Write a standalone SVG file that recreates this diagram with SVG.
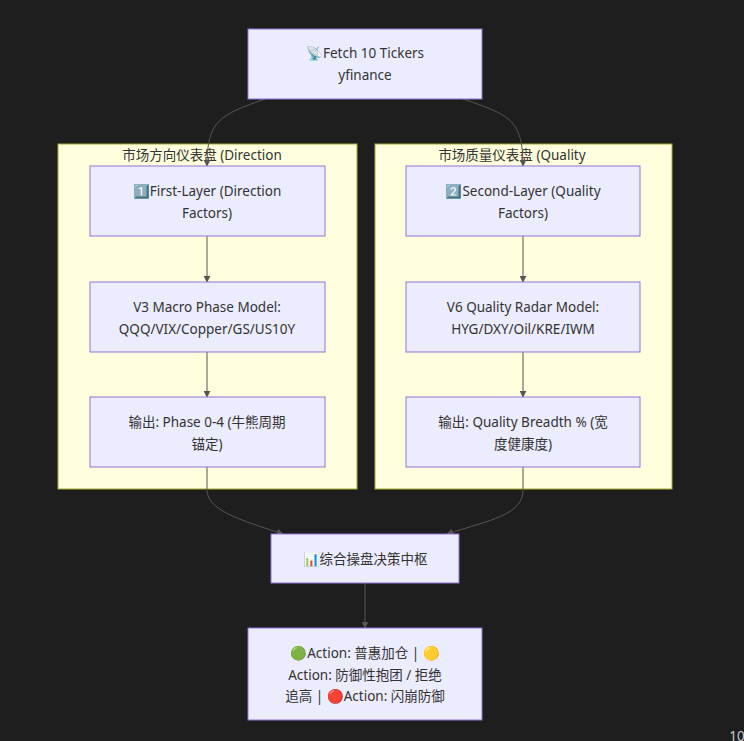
<svg xmlns="http://www.w3.org/2000/svg" width="744" height="741" viewBox="0 0 744 741">
<style>
.node{fill:#ececff;stroke:#9370db;stroke-width:1}
.cl{fill:#ffffde;stroke:#aaaa33;stroke-width:1}
text{font-family:"Noto Sans","Noto Sans CJK SC",sans-serif;font-size:13.5px;fill:#333;text-anchor:middle}
.e{fill:none;stroke:#555;stroke-width:1}
</style>
<defs><marker id="a" viewBox="0 0 10 10" refX="9" refY="5" markerWidth="7" markerHeight="7" orient="auto"><path d="M0,0L10,5L0,10z" fill="#555"/></marker></defs>
<rect width="744" height="741" fill="#1e1e1e"/>
<g id="clusterDirection"><rect class="cl" x="58" y="144" width="299" height="345"/><text x="202" y="160">市场方向仪表盘 (Direction</text></g>
<g id="clusterQuality"><rect class="cl" x="375" y="144" width="297" height="345"/><text x="512" y="160">市场质量仪表盘 (Quality</text></g>
<g id="edges">
<path class="e" marker-end="url(#a)" d="M265,99 C220,115 207,120 207,166"/>
<path class="e" marker-end="url(#a)" d="M463,99 C510,115 523,120 523,166"/>
<path class="e" marker-end="url(#a)" d="M207,236 V282"/>
<path class="e" marker-end="url(#a)" d="M207,352 V397"/>
<path class="e" marker-end="url(#a)" d="M523,236 V282"/>
<path class="e" marker-end="url(#a)" d="M523,352 V397"/>
<path class="e" marker-end="url(#a)" d="M207,467 V490 C207,510 240,520 283,534"/>
<path class="e" marker-end="url(#a)" d="M523,467 V490 C523,515 490,520 447,534"/>
<path class="e" marker-end="url(#a)" d="M365,583 V628"/>
</g>
<g id="fetch"><rect class="node" x="248" y="29" width="234" height="70"/><text x="365" y="58">📡Fetch 10 Tickers</text><text x="365" y="80">yfinance</text></g>
<g id="first"><rect class="node" x="90" y="166" width="235" height="70"/><text x="207" y="196">1️⃣First-Layer (Direction</text><text x="207" y="218">Factors)</text></g>
<g id="v3"><rect class="node" x="90" y="282" width="235" height="70"/><text x="207" y="312">V3 Macro Phase Model:</text><text x="207" y="334">QQQ/VIX/Copper/GS/US10Y</text></g>
<g id="out1"><rect class="node" x="90" y="397" width="235" height="70"/><text x="207" y="427">输出: Phase 0-4 (牛熊周期</text><text x="207" y="449">锚定)</text></g>
<g id="second"><rect class="node" x="406" y="166" width="234" height="70"/><text x="523" y="196">2️⃣Second-Layer (Quality</text><text x="523" y="218">Factors)</text></g>
<g id="v6"><rect class="node" x="406" y="282" width="234" height="70"/><text x="523" y="312">V6 Quality Radar Model:</text><text x="523" y="334">HYG/DXY/Oil/KRE/IWM</text></g>
<g id="out2"><rect class="node" x="406" y="397" width="234" height="70"/><text x="523" y="427">输出: Quality Breadth % (宽</text><text x="523" y="449">度健康度)</text></g>
<g id="hub"><rect class="node" x="271" y="534" width="188" height="49"/><text x="365" y="564">📊综合操盘决策中枢</text></g>
<g id="action"><rect class="node" x="248" y="628" width="234" height="92"/><text x="365" y="658">🟢Action: 普惠加仓 | 🟡</text><text x="365" y="680">Action: 防御性抱团 / 拒绝</text><text x="365" y="701">追高 | 🔴Action: 闪崩防御</text></g>
<text x="737" y="741" style="fill:#ccc">10</text>
</svg>
